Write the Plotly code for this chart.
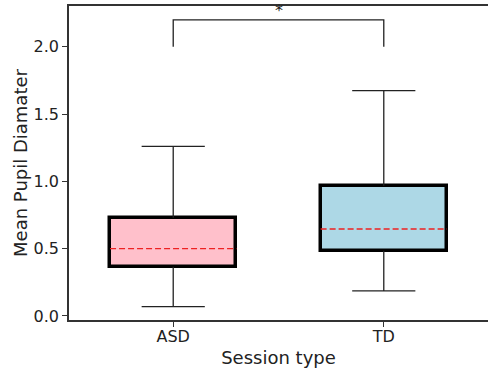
import plotly.graph_objects as go

categories = ["ASD", "TD"]
q1 = [0.366, 0.485]
q3 = [0.730, 0.968]
means = [0.500, 0.646]
lower_whisker = [0.069, 0.186]
upper_whisker = [1.260, 1.674]
box_colors = ["#FFC0CB", "#ADD8E6"]
bracket_y = [2.0, 2.2]
sig_label = "*"

pos = list(range(len(categories)))
box_w = 0.6
cap_half = 0.15

fig = go.Figure()

# whiskers
for i, c in enumerate(pos):
    fig.add_trace(go.Scatter(
        x=[c, c, None, c, c, None, c - cap_half, c + cap_half, None, c - cap_half, c + cap_half],
        y=[q3[i], upper_whisker[i], None, q1[i], lower_whisker[i], None,
           upper_whisker[i], upper_whisker[i], None, lower_whisker[i], lower_whisker[i]],
        mode="lines", line=dict(color="#222222", width=1.3), showlegend=False, hoverinfo="skip"))

# boxes
fig.add_trace(go.Bar(
    x=pos, y=[b - a for a, b in zip(q1, q3)], base=q1, width=box_w,
    marker=dict(color=box_colors, line=dict(color="black", width=3.5)),
    showlegend=False, hoverinfo="skip"))

# means
for i, c in enumerate(pos):
    fig.add_trace(go.Scatter(
        x=[c - box_w / 2, c + box_w / 2], y=[means[i], means[i]],
        mode="lines", line=dict(color="#EE2222", width=1.3, dash="6px,3px"),
        showlegend=False, hoverinfo="skip"))

# significance bracket
fig.add_trace(go.Scatter(
    x=[pos[0], pos[0], pos[1], pos[1]],
    y=[bracket_y[0], bracket_y[1], bracket_y[1], bracket_y[0]],
    mode="lines", line=dict(color="#222222", width=1.3),
    showlegend=False, hoverinfo="skip"))

fig.add_annotation(x=(pos[0] + pos[1]) / 2, y=bracket_y[1], text=sig_label,
                   showarrow=False, yanchor="bottom", yshift=-2,
                   font=dict(family="DejaVu Sans", size=16, color="#222222"))

fig.update_layout(
    width=488, height=368,
    margin=dict(l=69, r=0, t=6, b=48),
    plot_bgcolor="white", paper_bgcolor="white",
    font=dict(family="DejaVu Sans", color="#222222"),
    bargap=0,
)
fig.update_xaxes(
    range=[-0.495, 1.495], tickvals=pos, ticktext=categories,
    showgrid=False, zeroline=False,
    showline=True, linecolor="#333333", linewidth=1.5, mirror=True,
    ticks="outside", ticklen=5, tickcolor="#333333", tickwidth=1.3,
    tickfont=dict(size=16), ticklabelstandoff=-4,
    title=dict(text="Session type", font=dict(size=18), standoff=6),
)
fig.update_yaxes(
    range=[-0.03, 2.303], tickvals=[0, 0.5, 1.0, 1.5, 2.0], tickformat=".1f",
    showgrid=False, zeroline=False,
    showline=True, linecolor="#333333", linewidth=1.5, mirror=False,
    ticks="outside", ticklen=5, tickcolor="#333333", tickwidth=1.3,
    tickfont=dict(size=16),
    title=dict(text="Mean Pupil Diamater", font=dict(size=18), standoff=1),
)

fig.write_html("out.html", config={"displayModeBar": False},
               post_script="document.body.style.margin='0';")
